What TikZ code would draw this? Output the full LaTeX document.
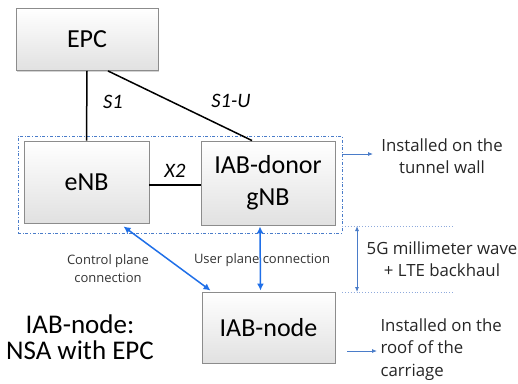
\documentclass[tikz,border=0pt]{standalone}
\usepackage{fontspec}
\setmainfont{Carlito}
\newfontfamily\smallfont{Open Sans}
\usetikzlibrary{arrows.meta,shadows,calc}
\definecolor{boxfill}{HTML}{F2F2F2}
\definecolor{boxline}{HTML}{8C8C8C}
\definecolor{linkblue}{HTML}{1F6FE8}
\definecolor{thinblue}{HTML}{4A7CC9}
\definecolor{dotblue}{HTML}{8FAADC}
\tikzset{
  netbox/.style={draw=boxline, line width=0.9pt, top color=white, bottom color=boxfill!85!gray, drop shadow={shadow xshift=1.2pt, shadow yshift=-1.2pt, opacity=0.35}, font=\fontsize{26}{28}\selectfont, align=center, inner sep=0pt},
  iface/.style={font=\fontsize{20.5}{22}\selectfont\itshape},
  link/.style={line width=1.5pt, black},
  planearrow/.style={line width=1.5pt, linkblue, {Latex[length=7pt,width=7pt]}-{Latex[length=7pt,width=7pt]}},
  notearrow/.style={line width=0.8pt, thinblue, -{Latex[length=5pt,width=4pt]}},
  note/.style={font=\smallfont\fontsize{16.8}{22.5}\selectfont, text=black!85, align=center},
  smallnote/.style={font=\smallfont\fontsize{13}{18}\selectfont, text=black!80, align=center},
}
\begin{document}
\begin{tikzpicture}[x=1pt,y=-1pt]
\useasboundingbox (0,0) rectangle (518,383);
% dashed region
\node (region) [draw=thinblue, dash dot, line width=0.6pt, minimum width=324pt, minimum height=97pt, inner sep=0pt] at (180,184.5) {};
% boxes
\node (EPC) [netbox, minimum width=142pt, minimum height=62pt] at (87,39.5) {EPC};
\node (eNB) [netbox, minimum width=125pt, minimum height=82pt] at (86.5,182) {eNB};
\node (gNB) [netbox, minimum width=134pt, minimum height=84pt] at (268,183) {IAB-donor\\[4pt]gNB};
\node (IAB) [netbox, minimum width=133pt, minimum height=71pt] at (268.5,327.5) {IAB-node};
% wired links
\draw[link] (EPC.south) -- (eNB.north);
\draw[link] ($(EPC.south)+(21,0)$) -- ($(gNB.north)+(-16,0)$);
\draw[link] (eNB.east |- 0,185) -- (gNB.west |- 0,185);
\node (s1) [iface] at (113,102) {S1};
\node (s1u) [iface] at (231,101) {S1-U};
\node (x2) [iface] at (175,171) {X2};
% wireless links
\draw[planearrow] ($(eNB.south)+(37,3)$) -- ($(IAB.north west)+(9,-1)$);
\draw[planearrow] ($(gNB.south)+(-8,1)$) -- ($(IAB.north)+(-8,-1)$);
\node (cp) [smallnote] at (108,269) {Control plane\\connection};
\node (up) [smallnote] at (262,260) {User plane connection};
% backhaul span
\coordinate (d1a) at (342,226);
\coordinate (d1b) at (453,226);
\coordinate (d2a) at (342,292);
\coordinate (d2b) at (453,292);
\draw[dotblue, dotted, line width=0.9pt] (d1a) -- (d1b);
\draw[dotblue, dotted, line width=0.9pt] (d2a) -- (d2b);
\coordinate (vA) at (357,226);
\coordinate (vB) at (357,292);
\draw[line width=0.8pt, thinblue, {Latex[length=5pt,width=4pt]}-{Latex[length=5pt,width=4pt]}] (vA) -- (vB);
\node (bh) [note] at (442,259) {5G millimeter wave\\+ LTE backhaul};
% notes
\node (tw) [note] at (442,156) {Installed on the\\tunnel wall};
\draw[notearrow] (region.east |- 0,154) -- (373,154);
\node (roof) [note, align=left, anchor=west] at (377,349.5) {Installed on the\\roof of the\\carriage};
\draw[notearrow] (347,351) -- (roof.west |- 0,351);
\node (nsa) [font=\fontsize{27}{26}\selectfont, align=center] at (80,337) {IAB-node:\\NSA with EPC};
\end{tikzpicture}
\end{document}
